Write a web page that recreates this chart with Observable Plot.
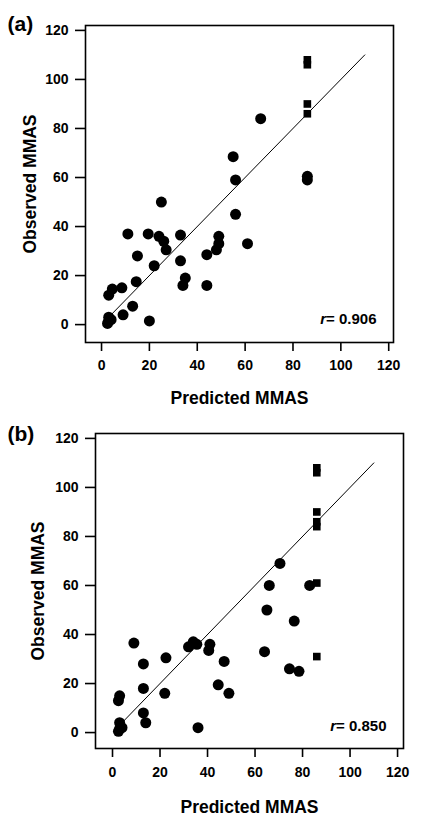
<!DOCTYPE html>
<html>
<head>
<meta charset="utf-8">
<script src="https://cdn.jsdelivr.net/npm/d3@7"></script>
<script src="https://cdn.jsdelivr.net/npm/@observablehq/plot@0.6"></script>
<style>
  html, body { margin: 0; padding: 0; background: white; }
  #chart { width: 429px; }
  #chart svg { display: block; }
  #chart svg text { font-weight: bold; }
</style>
</head>
<body>
<div id="chart"></div>
<script>
// ---- data ----
const tickValues = [0, 20, 40, 60, 80, 100, 120];
const fitLine = [4, 110];

// Panel (a)
const aPredCircle = [25, 56, 11, 19.5, 24, 26, 27, 33, 49, 49, 48, 44, 61, 15, 22, 33, 35, 34, 44, 14.5, 8.5, 4.5, 3, 13, 9, 20, 3, 3, 2.5, 4, 66.5, 55, 56, 86, 86];
const aObsCircle  = [50, 45, 37, 37, 36, 34, 30.5, 36.5, 36, 33, 30.5, 28.5, 33, 28, 24, 26, 19, 16, 16, 17.5, 15, 14.5, 12, 7.5, 4, 1.5, 3, 1.5, 0.5, 2, 84, 68.5, 59, 60.5, 59];
const aPredSquare = [86, 86, 86, 86];
const aObsSquare  = [108, 106, 90, 86];
const aR = "r= 0.906";

// Panel (b)
const bPredCircle = [9, 13, 22.5, 32, 34, 35.5, 41, 40.5, 47, 64, 65, 13, 22, 44.5, 49, 3, 2.5, 13, 14, 36, 3, 3, 4, 2.5, 70.5, 66, 83, 76.5, 74.5, 78.5];
const bObsCircle  = [36.5, 28, 30.5, 35, 37, 36, 36, 33.5, 29, 33, 50, 18, 16, 19.5, 16, 15, 13, 8, 4, 2, 4, 1.5, 2, 0.5, 69, 60, 60, 45.5, 26, 25];
const bPredSquare = [86, 86, 86, 86, 86, 86, 86];
const bObsSquare  = [108, 106, 90, 86, 84, 61, 31];
const bR = "r= 0.850";

const xLabel = "Predicted MMAS";
const yLabel = "Observed MMAS";

function pairs(xs, ys) { return xs.map((x, i) => ({x, y: ys[i]})); }

function panel(cfg) {
  const font = "'Liberation Sans', Arial, Helvetica, sans-serif";
  return Plot.plot({
    width: 429,
    height: cfg.height,
    marginLeft: cfg.ml, marginRight: cfg.mr, marginTop: cfg.mt, marginBottom: cfg.mb,
    x: {domain: cfg.xd, ticks: tickValues},
    y: {domain: cfg.yd, ticks: tickValues},
    style: {fontFamily: font, background: "white", color: "black"},
    marks: [
      Plot.frame({stroke: "black", strokeWidth: 1.6}),
      Plot.axisX({ticks: tickValues, tickSize: 9, tickPadding: cfg.xpad, fontSize: 14, strokeWidth: 1.6, label: null, tickFormat: d => String(d)}),
      Plot.axisY({ticks: tickValues, tickSize: 10, tickPadding: 7, fontSize: 14, strokeWidth: 1.6, label: null, tickFormat: d => String(d)}),
      Plot.line(fitLine, {x: d => d, y: d => d, stroke: "black", strokeWidth: 1}),
      Plot.dot(pairs(cfg.pc, cfg.oc), {x: "x", y: "y", r: 5.5, fill: "black", stroke: "none"}),
      Plot.dot(pairs(cfg.ps, cfg.os), {x: "x", y: "y", r: 4.3, symbol: "square", fill: "black", stroke: "none"}),
      Plot.text([xLabel], {frameAnchor: "bottom", dy: cfg.xtdy, textAnchor: "middle", lineAnchor: "middle", fontSize: 17.5, fill: "black"}),
      Plot.text([yLabel], {frameAnchor: "left", rotate: -90, dx: cfg.ytdx, textAnchor: "middle", lineAnchor: "middle", fontSize: 17.5, fill: "black"}),
      Plot.text([cfg.tag], {frameAnchor: "top-left", dx: 7 - cfg.ml, dy: cfg.tagdy, textAnchor: "start", lineAnchor: "middle", fontSize: 21, fill: "black"}),
      Plot.text([cfg.r], {frameAnchor: "bottom-right", dx: -17, dy: cfg.rdy, textAnchor: "end", lineAnchor: "middle", fontSize: 15, fill: "black"})
    ]
  });
}

const figA = panel({
  height: 410, ml: 85, mr: 36, mt: 25, mb: 68,
  xd: [-6.7, 122], yd: [-7.3, 122], xpad: 9,
  pc: aPredCircle, oc: aObsCircle, ps: aPredSquare, os: aObsSquare,
  xtdy: 55.5, ytdx: -55.5, tag: "(a)", tagdy: -1.7, r: aR, rdy: -23
});
const figB = panel({
  height: 417, ml: 95, mr: 26, mt: 23, mb: 79,
  xd: [-7.16, 122.5], yd: [-6.5, 122], xpad: 10,
  pc: bPredCircle, oc: bObsCircle, ps: bPredSquare, os: bObsSquare,
  xtdy: 58.5, ytdx: -57.5, tag: "(b)", tagdy: 0.3, r: bR, rdy: -22
});

const chart = document.getElementById("chart");
chart.appendChild(figA);
chart.appendChild(figB);

// italic "r" in the correlation annotations
chart.querySelectorAll("text").forEach(t => {
  const s = t.textContent;
  if (/^r= /.test(s)) {
    t.textContent = "";
    const ns = "http://www.w3.org/2000/svg";
    const a = document.createElementNS(ns, "tspan");
    a.setAttribute("font-style", "italic");
    a.textContent = "r";
    const b = document.createElementNS(ns, "tspan");
    b.textContent = s.slice(1);
    t.appendChild(a); t.appendChild(b);
  }
});
</script>
</body>
</html>
